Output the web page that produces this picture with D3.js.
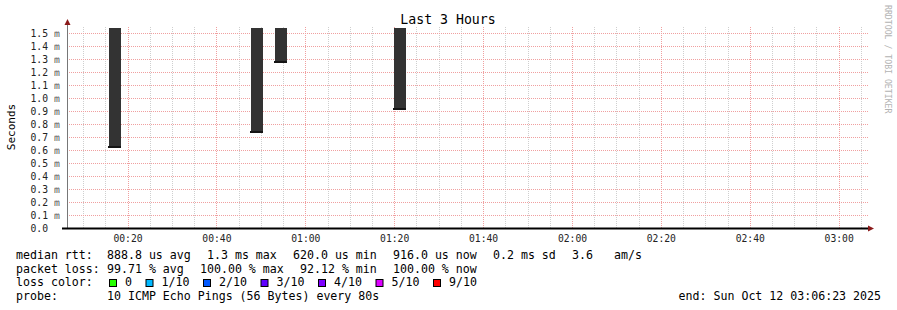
<!DOCTYPE html>
<html>
<head>
<meta charset="utf-8">
<script src="https://cdn.jsdelivr.net/npm/d3@7"></script>
<style>
  body { margin: 0; background: #fff; }
  text { font-family: "DejaVu Sans Mono", monospace; }
</style>
</head>
<body>
<div id="graphic"></div>
<script>
// Data
const timeRange = ["2025-10-12 00:06:23", "2025-10-12 03:06:23"];
const smokeStart = ["2025-10-12 00:15:50", "2025-10-12 00:47:47", "2025-10-12 00:53:11", "2025-10-12 01:19:58"];
const smokeEnd   = ["2025-10-12 00:18:32", "2025-10-12 00:50:29", "2025-10-12 00:55:53", "2025-10-12 01:22:40"];
const medianRtt  = [0.62, 0.738, 1.28, 0.916];   // ms
const smokeTop   = [1.6, 1.6, 1.6, 1.6];         // ms, clipped at top of graph
const yTicks = [0, 0.1, 0.2, 0.3, 0.4, 0.5, 0.6, 0.7, 0.8, 0.9, 1.0, 1.1, 1.2, 1.3, 1.4, 1.5];

const rttLegend  = ["888.8 us avg", "1.3 ms max", "620.0 us min", "916.0 us now", "0.2 ms sd", "3.6", "am/s"];
const lossLegend = ["99.71 % avg", "100.00 % max", "92.12 % min", "100.00 % now"];
const lossLabels = ["0", "1/10", "2/10", "3/10", "4/10", "5/10", "9/10"];
const lossColors = ["#26ff00", "#00b8ff", "#0059ff", "#5e00ff", "#7e00ff", "#dd00ff", "#ff0000"];
const probeText = "10 ICMP Echo Pings (56 Bytes) every 80s";
const endText = "end: Sun Oct 12 03:06:23 2025";

const W = 897, H = 310;
const plot = {left: 67, right: 867, top: 28, bottom: 228};

const parse = d3.timeParse("%Y-%m-%d %H:%M:%S");

const svg = d3.select("#graphic").append("svg")
    .attr("width", W)
    .attr("height", H);

svg.append("rect").attr("width", W).attr("height", H).attr("fill", "#fff");

const x = d3.scaleTime()
    .domain(timeRange.map(parse))
    .range([plot.left, plot.right]);

const y = d3.scaleLinear()
    .domain([0, 1.5])
    .range([plot.bottom, 33]);

// grid
const grid = svg.append("g");
grid.selectAll(".vminor")
    .data(x.ticks(d3.timeMinute.every(5)))
    .join("line")
    .attr("x1", d => Math.round(x(d)) + 0.5)
    .attr("x2", d => Math.round(x(d)) + 0.5)
    .attr("y1", plot.bottom)
    .attr("y2", plot.top - 2)
    .attr("stroke", d => d.getMinutes() % 20 === 0 ? "#f0a0a0" : "#cfcfcf")
    .attr("stroke-dasharray", "1,1");

grid.selectAll(".hline")
    .data(yTicks.filter(d => d > 0))
    .join("line")
    .attr("x1", plot.left)
    .attr("x2", plot.right + 1)
    .attr("y1", d => Math.round(y(d)) + 0.5)
    .attr("y2", d => Math.round(y(d)) + 0.5)
    .attr("stroke", "#f0a0a0")
    .attr("stroke-dasharray", "1,1");

// smoke
svg.append("clipPath").attr("id", "clip")
    .append("rect")
    .attr("x", plot.left).attr("y", plot.top)
    .attr("width", plot.right - plot.left + 1)
    .attr("height", plot.bottom - plot.top);

const smoke = svg.append("g").attr("clip-path", "url(#clip)");
const idx = d3.range(medianRtt.length);

smoke.selectAll(".smoke")
    .data(idx)
    .join("rect")
    .attr("x", i => Math.round(x(parse(smokeStart[i]))))
    .attr("width", i => Math.round(x(parse(smokeEnd[i]))) - Math.round(x(parse(smokeStart[i]))))
    .attr("y", i => y(smokeTop[i]))
    .attr("height", i => y(medianRtt[i]) - y(smokeTop[i]))
    .attr("fill", "#333333");

smoke.selectAll(".median")
    .data(idx)
    .join("rect")
    .attr("x", i => Math.round(x(parse(smokeStart[i]))) - 1)
    .attr("width", i => Math.round(x(parse(smokeEnd[i]))) - Math.round(x(parse(smokeStart[i]))) + 1)
    .attr("y", i => Math.round(y(medianRtt[i])) - 1)
    .attr("height", 2)
    .attr("fill", "#151515");

// axes lines + arrows
svg.append("line")
    .attr("x1", plot.left + 0.5).attr("x2", plot.left + 0.5)
    .attr("y1", plot.bottom).attr("y2", 23)
    .attr("stroke", "#777").attr("stroke-width", 1);
svg.append("path")
    .attr("d", `M${plot.left - 2.5},25 L${plot.left + 3.5},25 L${plot.left + 0.5},19 Z`)
    .attr("fill", "#8b1a1a");

svg.append("line")
    .attr("x1", 62).attr("x2", plot.right + 3)
    .attr("y1", plot.bottom + 0.5).attr("y2", plot.bottom + 0.5)
    .attr("stroke", "#000").attr("stroke-width", 2);
svg.append("path")
    .attr("d", `M${plot.right + 1},${plot.bottom - 2.5} L${plot.right + 1},${plot.bottom + 3.5} L${plot.right + 7},${plot.bottom + 0.5} Z`)
    .attr("fill", "#8b1a1a");

// axis labels via d3 axes
const xAxis = d3.axisBottom(x)
    .ticks(d3.timeMinute.every(20))
    .tickFormat(d3.timeFormat("%H:%M"))
    .tickSize(0)
    .tickPadding(0);

const gx = svg.append("g")
    .attr("transform", `translate(0,${plot.bottom})`)
    .call(xAxis);
gx.select(".domain").remove();
gx.selectAll(".tick line").remove();
gx.selectAll("text")
    .attr("dy", null)
    .attr("y", 14)
    .attr("fill", "#222")
    .style("font-size", "9.7px")
    .style("font-family", '"DejaVu Sans Mono", monospace');

const yAxis = d3.axisLeft(y)
    .tickValues(yTicks)
    .tickFormat(d => d === 0 ? "0.0" : d3.format(".1f")(d))
    .tickSize(0)
    .tickPadding(0);

const gy = svg.append("g").call(yAxis);
gy.select(".domain").remove();
gy.selectAll(".tick line").remove();
gy.selectAll("text")
    .attr("text-anchor", "start")
    .attr("x", 30.5)
    .attr("dy", "0.36em")
    .attr("fill", "#222")
    .style("font-size", "9.7px")
    .style("font-family", '"DejaVu Sans Mono", monospace');
// unit suffix; tiny rotation keeps it grey instead of colour-fringed
gy.selectAll(".tick").filter(d => d > 0)
    .append("text")
    .attr("text-anchor", "start")
    .attr("transform", "translate(54,0) rotate(0.4)")
    .attr("dy", "0.36em")
    .attr("fill", "#555")
    .style("font-size", "9.7px")
    .style("font-family", '"DejaVu Sans Mono", monospace')
    .text("m");

// zero tick
svg.append("line")
    .attr("x1", 62).attr("x2", plot.left)
    .attr("y1", plot.bottom + 0.5).attr("y2", plot.bottom + 0.5)
    .attr("stroke", "#000");

// title, axis title, watermark
svg.append("text")
    .attr("x", 448).attr("y", 24)
    .attr("text-anchor", "middle")
    .attr("font-size", "13.2px")
    .attr("fill", "#000")
    .text("Last 3 Hours");

svg.append("text")
    .attr("transform", "translate(15,127) rotate(-90)")
    .attr("text-anchor", "middle")
    .attr("font-size", "11px")
    .attr("fill", "#000")
    .text("Seconds");

svg.append("text")
    .attr("transform", "translate(885,5) rotate(90)")
    .attr("font-size", "8.2px")
    .attr("fill", "#b3b3b3")
    .text("RRDTOOL / TOBI OETIKER");

// legend
const legend = svg.append("g")
    .attr("font-size", "11.6px")
    .attr("fill", "#000");

const rowY = [259, 272.7, 286.4, 300.1];
const rowHead = ["median rtt:", "packet loss:", "loss color:", "probe:"];
legend.selectAll(".head")
    .data(rowHead)
    .join("text")
    .attr("x", 16)
    .attr("y", (d, i) => rowY[i])
    .text(d => d);

const rttX = [107, 207, 293, 393, 493, 572, 614];
legend.selectAll(".rtt")
    .data(rttLegend)
    .join("text")
    .attr("x", (d, i) => rttX[i])
    .attr("y", rowY[0])
    .text(d => d);

const lossX = [107, 200, 300, 393];
legend.selectAll(".loss")
    .data(lossLegend)
    .join("text")
    .attr("x", (d, i) => lossX[i])
    .attr("y", rowY[1])
    .text(d => d);

// loss colour swatches
let cx = 109;
lossLabels.forEach((lab, i) => {
  legend.append("rect")
      .attr("x", cx + 0.5).attr("y", 279.5)
      .attr("width", 7).attr("height", 7)
      .attr("fill", lossColors[i])
      .attr("stroke", "#000");
  legend.append("text")
      .attr("x", cx + 16)
      .attr("y", rowY[2])
      .text(lab);
  cx += 16 + lab.length * 7 + 13.5;
});

legend.append("text")
    .attr("x", 107)
    .attr("y", rowY[3])
    .text(probeText);

legend.append("text")
    .attr("x", 881)
    .attr("y", rowY[3])
    .attr("text-anchor", "end")
    .text(endText);
</script>
</body>
</html>
